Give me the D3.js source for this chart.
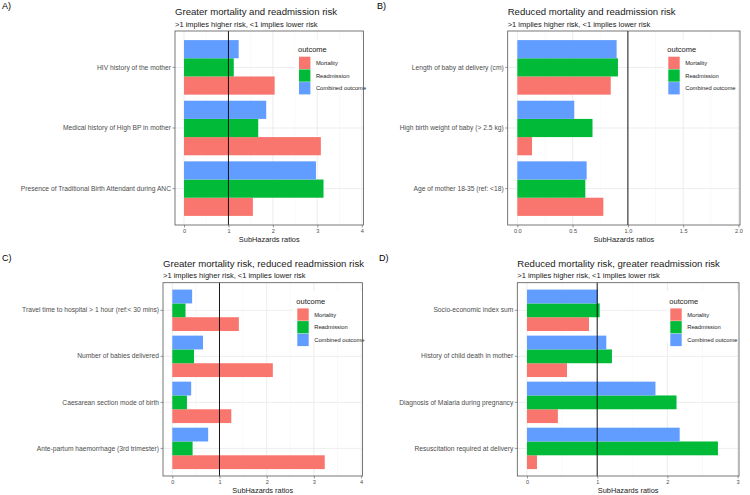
<!DOCTYPE html>
<html>
<head>
<meta charset="utf-8">
<script src="https://cdn.jsdelivr.net/npm/d3@7"></script>
<style>
  body { margin: 0; background: #fff; }
  svg { display: block; }
  .tick-lab { font-family: "Liberation Sans", Arial, sans-serif; fill: #4d4d4d; }
</style>
</head>
<body>
<svg id="chart" width="750" height="495"></svg>
<script>
// outcomes, in legend order
const outcomes = ["Mortality", "Readmission", "Combined outcome"];

// A) greater mortality and readmission risk
const catsA = ["HIV history of the mother", "Medical history of High BP in mother", "Presence of Traditional Birth Attendant during ANC"];
const mortA = [2.04, 3.08, 1.55];
const readA = [1.12, 1.67, 3.14];
const combA = [1.23, 1.85, 2.97];
const ticksA = [0, 1, 2, 3, 4];

// B) reduced mortality and readmission risk
const catsB = ["Length of baby at delivery (cm)", "High birth weight of baby (> 2.5 kg)", "Age of mother 18-35 (ref: <18)"];
const mortB = [0.845, 0.133, 0.778];
const readB = [0.91, 0.68, 0.615];
const combB = [0.898, 0.515, 0.627];
const ticksB = [0, 0.5, 1, 1.5, 2];

// C) greater mortality risk, reduced readmission risk
const catsC = ["Travel time to hospital > 1 hour (ref:< 30 mins)", "Number of babies delivered", "Caesarean section mode of birth", "Ante-partum haemorrhage (3rd trimester)"];
const mortC = [1.41, 2.13, 1.25, 3.23];
const readC = [0.28, 0.46, 0.31, 0.43];
const combC = [0.42, 0.65, 0.40, 0.76];
const ticksC = [0, 1, 2, 3, 4];

// D) reduced mortality risk, greater readmission risk
const catsD = ["Socio-economic index sum", "History of child death in mother", "Diagnosis of Malaria during pregnancy", "Resuscitation required at delivery"];
const mortD = [0.883, 0.57, 0.44, 0.142];
const readD = [1.035, 1.21, 2.13, 2.72];
const combD = [1.01, 1.13, 1.83, 2.175];
const ticksD = [0, 1, 2, 3];

const subtitle = ">1 implies higher risk, <1 implies lower risk";
const xTitle = "SubHazards ratios";

let colour = d3.scaleOrdinal().domain(outcomes).range(["#F8766D", "#00BA38", "#619CFF"]);

let panels = [
    {tag: "A)", tagX: 2, tagY: 6, title: "Greater mortality and readmission risk",
     cats: catsA, vals: [mortA, readA, combA], ticks: ticksA, fmt: d3.format("d"),
     left: 175, right: 363.5, top: 31, bottom: 225, domain: [-0.203, 4.04], legX: 298},
    {tag: "B)", tagX: 377, tagY: 6, title: "Reduced mortality and readmission risk",
     cats: catsB, vals: [mortB, readB, combB], ticks: ticksB, fmt: d3.format(".1f"),
     left: 507.7, right: 740, top: 31, bottom: 225, domain: [-0.087, 2.014], legX: 667.3},
    {tag: "C)", tagX: 2, tagY: 257.5, title: "Greater mortality risk, reduced readmission risk",
     cats: catsC, vals: [mortC, readC, combC], ticks: ticksC, fmt: d3.format("d"),
     left: 163, right: 362.5, top: 282.7, bottom: 476, domain: [-0.197, 4.03], legX: 296.3},
    {tag: "D)", tagX: 379, tagY: 257.5, title: "Reduced mortality risk, greater readmission risk",
     cats: catsD, vals: [mortD, readD, combD], ticks: ticksD, fmt: d3.format("d"),
     left: 517.3, right: 739, top: 282.7, bottom: 476, domain: [-0.138, 3.02], legX: 669.3}
];

let svg = d3.select("#chart");

panels.forEach(p => {
    let g = svg.append("g");
    let x = d3.scaleLinear().domain(p.domain).range([p.left, p.right]);
    let y = d3.scaleBand().domain(p.cats).range([p.top, p.bottom]).paddingInner(0.1).paddingOuter(0.15);
    let sub = d3.scaleBand().domain(outcomes.slice().reverse()).range([0, y.bandwidth()]);

    // tag + titles
    g.append("text").attr("x", p.tagX).attr("y", p.tagY).attr("dy", "0.35em")
        .style("font-family", "Liberation Sans, Arial, sans-serif").style("font-size", "9px")
        .text(p.tag);
    g.append("text").attr("x", p.left).attr("y", p.top - 19.3).attr("dy", "0.35em")
        .style("font-family", "Liberation Sans, Arial, sans-serif").style("font-size", "9.6px").style("fill", "#1a1a1a")
        .text(p.title);
    g.append("text").attr("x", p.left).attr("y", p.top - 7).attr("dy", "0.35em")
        .style("font-family", "Liberation Sans, Arial, sans-serif").style("font-size", "7.5px").style("fill", "#1a1a1a")
        .text(subtitle);

    // grid
    let minor = d3.range(p.ticks.length - 1).map(i => (p.ticks[i] + p.ticks[i + 1]) / 2);
    g.selectAll(".minor").data(minor).enter().append("line")
        .attr("x1", d => x(d)).attr("x2", d => x(d)).attr("y1", p.top).attr("y2", p.bottom)
        .style("stroke", "#f2f2f2").style("stroke-width", 0.5);
    g.selectAll(".major").data(p.ticks).enter().append("line")
        .attr("x1", d => x(d)).attr("x2", d => x(d)).attr("y1", p.top).attr("y2", p.bottom)
        .style("stroke", "#ebebeb").style("stroke-width", 0.9);
    g.selectAll(".hgrid").data(p.cats).enter().append("line")
        .attr("x1", p.left).attr("x2", p.right)
        .attr("y1", d => y(d) + y.bandwidth() / 2).attr("y2", d => y(d) + y.bandwidth() / 2)
        .style("stroke", "#ebebeb").style("stroke-width", 0.9);

    // bars
    let rows = [];
    p.cats.forEach((c, i) => outcomes.forEach((o, k) => rows.push({cat: c, outcome: o, value: p.vals[k][i]})));
    g.selectAll(".bar").data(rows).enter().append("rect")
        .attr("x", x(0))
        .attr("y", d => y(d.cat) + sub(d.outcome))
        .attr("width", d => x(d.value) - x(0))
        .attr("height", sub.bandwidth())
        .style("fill", d => colour(d.outcome));

    // reference line at 1
    g.append("line").attr("x1", x(1)).attr("x2", x(1)).attr("y1", p.top).attr("y2", p.bottom)
        .style("stroke", "#000").style("stroke-width", 0.9);

    // legend
    let ly = p.top + 18.3, kh = 12.7, kw = 11.4;
    g.append("rect").attr("x", p.legX - 3).attr("y", ly - 10).attr("width", 74).attr("height", kh * 3 + 13)
        .style("fill", "#fff");
    g.append("text").attr("x", p.legX).attr("y", ly).attr("dy", "0.35em")
        .style("font-family", "Liberation Sans, Arial, sans-serif").style("font-size", "7.5px").style("fill", "#1a1a1a")
        .text("outcome");
    let leg = g.selectAll(".leg").data(outcomes).enter().append("g")
        .attr("transform", (d, i) => "translate(" + (p.legX + 1) + "," + (ly + 7.4 + i * kh) + ")");
    leg.append("rect").attr("width", kw).attr("height", kh - 0.4).style("fill", colour);
    leg.append("text").attr("x", kw + 5.5).attr("y", kh / 2).attr("dy", "0.35em")
        .style("font-family", "Liberation Sans, Arial, sans-serif").style("font-size", "5.8px").style("fill", "#1a1a1a")
        .text(d => d);

    // panel border
    g.append("rect").attr("x", p.left).attr("y", p.top).attr("width", p.right - p.left).attr("height", p.bottom - p.top)
        .style("fill", "none").style("stroke", "#555").style("stroke-width", 0.8);

    // axes
    let xa = g.append("g").attr("transform", "translate(0," + p.bottom + ")")
        .call(d3.axisBottom(x).tickValues(p.ticks).tickFormat(p.fmt).tickSize(2.5).tickPadding(1.5));
    xa.select(".domain").remove();
    xa.selectAll("line").style("stroke", "#555").style("stroke-width", 0.6);
    xa.selectAll("text").attr("class", "tick-lab").style("font-size", "5.6px");

    let ya = g.append("g").attr("transform", "translate(" + p.left + ",0)")
        .call(d3.axisLeft(y).tickSize(2.5).tickPadding(1.5));
    ya.select(".domain").remove();
    ya.selectAll("line").style("stroke", "#555").style("stroke-width", 0.6);
    ya.selectAll("text").attr("class", "tick-lab").style("font-size", "6.7px");

    g.append("text").attr("x", (p.left + p.right) / 2).attr("y", p.bottom + 14).attr("dy", "0.35em")
        .attr("text-anchor", "middle")
        .style("font-family", "Liberation Sans, Arial, sans-serif").style("font-size", "7.4px").style("fill", "#1a1a1a")
        .text(xTitle);
});
</script>
</body>
</html>
